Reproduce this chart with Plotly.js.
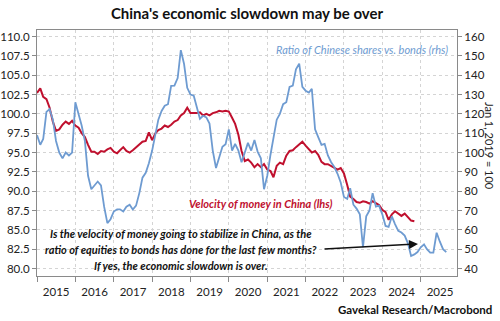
<!DOCTYPE html>
<html>
<head>
<meta charset="utf-8">
<script src="https://cdn.plot.ly/plotly-3.0.1.min.js"></script>
<style>
  html, body { margin: 0; padding: 0; background: #fff; }
  #chart { width: 500px; height: 321px; }
</style>
</head>
<body>
<div id="chart"></div>
<script>
// ---- Data (monthly, starting Jan 2015) ----
const startYear = 2015;
const velocityLabel = "Velocity of money in China (lhs)";
const ratioLabel = "Ratio of Chinese shares vs. bonds (rhs)";

// Velocity of money in China (lhs), Jan 2015 onward
const velocity = [
  102.7, 103.3, 102.2, 101.9, 100.8, 99.0, 97.8, 98.0, 98.6, 99.0, 98.7, 99.1,
  98.5, 98.2, 97.5, 97.0, 96.0, 95.1, 95.1, 94.8, 95.2, 95.1, 95.4, 95.6,
  95.1, 94.9, 95.3, 95.7, 95.2, 95.0, 95.3, 95.7, 96.0, 96.4, 96.5, 97.6,
  96.6, 97.5, 97.9, 98.1, 98.5, 98.3, 98.6, 99.0, 99.2, 99.8, 100.1, 100.8,
  100.1, 100.1, 100.1, 100.2, 99.8, 100.0, 99.8, 100.1, 100.2, 100.4, 100.3, 100.4,
  100.3, 99.5, 98.7, 97.3, 95.2, 93.9, 94.1, 93.7, 93.1, 93.5, 93.1, 93.5,
  92.8, 92.6, 91.8, 93.3, 93.7, 93.5, 94.6, 95.2, 95.3, 95.7, 96.1, 96.4,
  95.9, 95.4, 95.0, 95.2, 94.7, 93.8, 93.5, 93.5, 93.3, 93.0, 92.8, 93.0,
  92.3, 90.8, 89.3, 89.0, 88.6, 88.5, 88.7, 88.6, 88.4, 88.7, 88.4, 88.2,
  87.6, 87.3, 86.3, 87.0, 87.4, 87.1, 86.8, 87.1, 86.6, 86.2, 86.1
];

// Ratio of Chinese shares vs. bonds (rhs, Jan 1, 2019 = 100), Jan 2015 onward
const ratio = [
  109, 104, 107, 121, 122.5, 117, 106, 100, 97, 100, 98.5, 100,
  126, 120, 114, 106, 88, 81, 83, 85, 83, 72, 63.5, 65.5,
  69.5, 70.6, 70.6, 69.5, 72, 73, 70.5, 72.5, 79, 87, 89.5, 94.5,
  101, 110, 117, 121.5, 124.2, 125, 134.5, 134.6, 138.5, 153, 145.8, 133.5,
  130, 129.4, 124, 117.5, 119, 118.2, 115, 101, 92, 97, 103, 104.3,
  112, 101, 104.5, 101, 95, 100, 105, 101, 106.5, 100.5, 97, 81,
  88, 99, 107, 117, 120, 125, 126, 134, 134.6, 143, 146, 134,
  132, 131, 133, 112, 108, 104, 104.5, 98.5, 95, 92.5, 89, 84.5,
  77, 76, 81.5, 73, 71, 68, 51, 67, 70, 79, 72, 72.5,
  68, 62, 61.5, 67, 63, 59.5, 58.6, 57, 53, 46.5, 47.3, 48.5,
  51, 52.5, 50, 48.2, 48.2, 58.5, 54, 50, 48.5
];

const leftTicks = [80, 82.5, 85, 87.5, 90, 92.5, 95, 97.5, 100, 102.5, 105, 107.5, 110];
const rightTicks = [40, 50, 60, 70, 80, 90, 100, 110, 120, 130, 140, 150, 160];

const titleText = "China's economic slowdown may be over";
const sourceText = "Gavekal Research/Macrobond";
const rightAxisTitle = "Jan 1, 2019 = 100";
const questionLines = [
  "Is the velocity of money going to stabilize in China, as the",
  "ratio of equities to bonds has done for the last few months?",
  "If yes, the economic slowdown is over."
];

// ---- helpers ----
function monthDates(n) {
  const out = [];
  for (let i = 0; i < n; i++) {
    const y = startYear + Math.floor(i / 12);
    const m = (i % 12) + 1;
    out.push(y + "-" + (m < 10 ? "0" + m : m) + "-01");
  }
  return out;
}

const RED = "#c0102e";
const BLUE = "#6e9bd1";
const FONT = "Lato, 'Open Sans', sans-serif";

// left range and matching right range (right = 40 + (left-80)*4)
const leftRange = [79.03, 110.85];
const rightRange = leftRange.map(v => 40 + (v - 80) * 4);

const traces = [
  {
    x: monthDates(ratio.length), y: ratio, yaxis: "y2", type: "scatter", mode: "lines",
    name: ratioLabel, line: { color: BLUE, width: 1.8 }
  },
  {
    x: monthDates(velocity.length), y: velocity, yaxis: "y", type: "scatter", mode: "lines",
    name: velocityLabel, line: { color: RED, width: 2 }
  }
];

const L = 37, T = 30, R = 457, B = 276;
function px(x) { return (x - L) / (R - L); }
function py(y) { return (B - y) / (B - T); }

const annFont = { family: FONT, size: 11 };

const annotations = [
  { text: "<i>" + ratioLabel + "</i>", xref: "paper", yref: "paper", x: px(362), y: py(49),
    showarrow: false, font: Object.assign({}, annFont, { color: BLUE }), xanchor: "center", yanchor: "middle" },
  { text: "<b><i>" + velocityLabel + "</i></b>", xref: "paper", yref: "paper", x: px(260), y: py(203),
    showarrow: false, font: Object.assign({}, annFont, { color: RED }), xanchor: "center", yanchor: "middle" },
  { text: "<b><i>" + questionLines[0] + "</i></b>", xref: "paper", yref: "paper", x: px(181), y: py(233),
    showarrow: false, font: Object.assign({}, annFont, { color: "#111" }), xanchor: "center", yanchor: "middle" },
  { text: "<b><i>" + questionLines[1] + "</i></b>", xref: "paper", yref: "paper", x: px(181), y: py(249),
    showarrow: false, font: Object.assign({}, annFont, { color: "#111" }), xanchor: "center", yanchor: "middle" },
  { text: "<b><i>" + questionLines[2] + "</i></b>", xref: "paper", yref: "paper", x: px(181), y: py(265),
    showarrow: false, font: Object.assign({}, annFont, { color: "#111" }), xanchor: "center", yanchor: "middle" },
  // arrow
  { text: "", xref: "paper", yref: "paper", x: px(418), y: py(244), ax: -95, ay: 5,
    axref: "pixel", ayref: "pixel", showarrow: true, arrowhead: 2, arrowsize: 1.2, arrowwidth: 1.5,
    arrowcolor: "#111", standoff: 0 },
  // right axis title
  { text: rightAxisTitle, xref: "paper", yref: "paper", x: px(490), y: py(146), textangle: 90,
    showarrow: false, font: { family: FONT, size: 11, color: "#222" }, xanchor: "center", yanchor: "middle" },
  // source
  { text: "<b>" + sourceText + "</b>", xref: "paper", yref: "paper", x: px(494), y: py(309),
    showarrow: false, font: { family: FONT, size: 11.5, color: "#111" }, xanchor: "right", yanchor: "middle" }
];

const gridColor = "#d4d4d4";
const lineColor = "#8a8a8a";

const layout = {
  width: 500, height: 321,
  margin: { l: L, r: 500 - R, t: T, b: 321 - B, pad: 0 },
  paper_bgcolor: "#fff", plot_bgcolor: "#fff",
  showlegend: false,
  font: { family: FONT, size: 11, color: "#222" },
  title: { text: "<b>" + titleText + "</b>", x: 0.5, xanchor: "center", xref: "paper",
           y: 1 - 14 / 321, yanchor: "middle", yref: "container",
           font: { family: FONT, size: 15, color: "#111" } },
  xaxis: {
    type: "date", range: ["2015-01-01", "2025-12-12"],
    tick0: "2015-01-01", dtick: "M12", tickformat: "%Y", ticklabelmode: "period",
    ticks: "outside", ticklen: 5, tickcolor: lineColor, tickwidth: 1,
    showgrid: true, gridcolor: gridColor, griddash: "dot", gridwidth: 1,
    showline: true, linecolor: lineColor, linewidth: 1, mirror: true,
    zeroline: false, tickfont: { family: FONT, size: 11.5, color: "#222" }, fixedrange: true
  },
  yaxis: {
    range: leftRange, tickvals: leftTicks, tickformat: ".1f",
    ticks: "outside", ticklen: 4, tickcolor: lineColor,
    showgrid: true, gridcolor: gridColor, griddash: "dot", gridwidth: 1,
    showline: true, linecolor: lineColor, linewidth: 1,
    zeroline: false, tickfont: { family: FONT, size: 11.5, color: "#222" }, fixedrange: true
  },
  yaxis2: {
    range: rightRange, tickvals: rightTicks, overlaying: "y", side: "right",
    ticks: "outside", ticklen: 4, tickcolor: lineColor,
    showgrid: false, showline: true, linecolor: lineColor, linewidth: 1,
    zeroline: false, tickfont: { family: FONT, size: 11.5, color: "#222" }, fixedrange: true
  },
  annotations: annotations
};

Plotly.newPlot("chart", traces, layout, { staticPlot: true, displayModeBar: false });
</script>
</body>
</html>
